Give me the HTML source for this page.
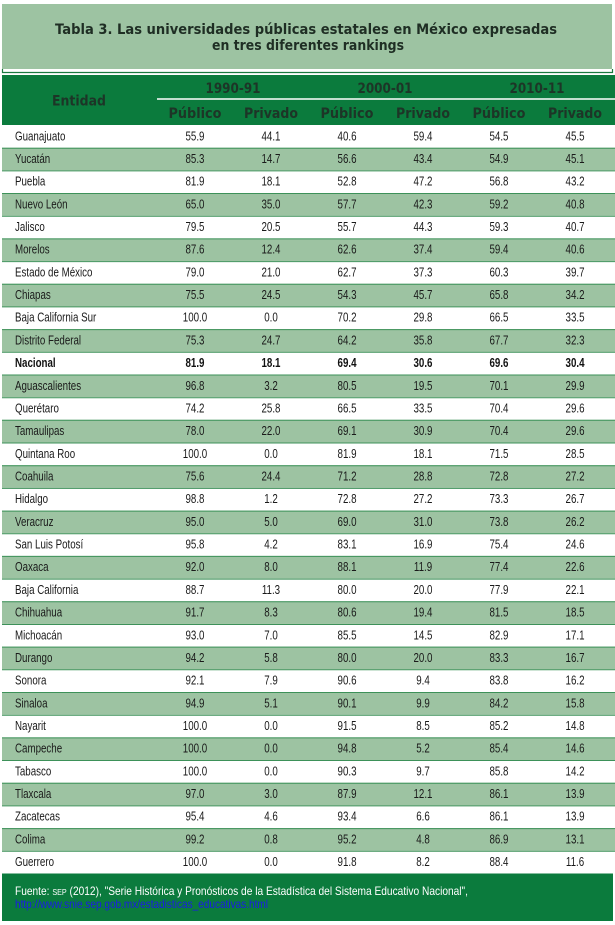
<!DOCTYPE html>
<html><head><meta charset="utf-8"><style>
html,body{margin:0;padding:0;background:#fff;width:615px;height:925px;overflow:hidden}
svg{display:block}
.n{text-anchor:middle}
</style></head><body>
<svg width="615" height="925" viewBox="0 0 615 925" xmlns="http://www.w3.org/2000/svg">
<rect x="0" y="0" width="615" height="925" fill="#fff"/>
<!-- title -->
<rect x="2" y="4" width="610" height="65" fill="#9dc3a2"/>
<path d="M2.5 69 V72.5 H612.5 V69" fill="none" stroke="#1b7a40" stroke-width="1.2"/>
<g font-family="DejaVu Sans, sans-serif" font-weight="bold" font-size="14" fill="#1f2e24">
<text x="55" y="34" textLength="502" lengthAdjust="spacingAndGlyphs">Tabla 3. Las universidades públicas estatales en México expresadas</text>
<text x="212" y="50" textLength="192" lengthAdjust="spacingAndGlyphs">en tres diferentes rankings</text>
</g>
<!-- header -->
<rect x="2" y="75" width="613" height="50" fill="#0b7b3d"/>
<line x1="157" y1="99" x2="615" y2="99" stroke="#fff" stroke-width="1.5"/>
<g font-family="DejaVu Sans, sans-serif" font-weight="bold" font-size="14" fill="#1d3527">
<text x="52" y="105.5" textLength="54" lengthAdjust="spacingAndGlyphs">Entidad</text>
<text x="205.5" y="93" textLength="55" lengthAdjust="spacingAndGlyphs">1990-91</text>
<text x="357.5" y="93" textLength="55" lengthAdjust="spacingAndGlyphs">2000-01</text>
<text x="509.5" y="93" textLength="55" lengthAdjust="spacingAndGlyphs">2010-11</text>
<text x="168.5" y="118" textLength="53" lengthAdjust="spacingAndGlyphs">Público</text>
<text x="244" y="118" textLength="54" lengthAdjust="spacingAndGlyphs">Privado</text>
<text x="320.5" y="118" textLength="53" lengthAdjust="spacingAndGlyphs">Público</text>
<text x="396" y="118" textLength="54" lengthAdjust="spacingAndGlyphs">Privado</text>
<text x="472.5" y="118" textLength="53" lengthAdjust="spacingAndGlyphs">Público</text>
<text x="548" y="118" textLength="54" lengthAdjust="spacingAndGlyphs">Privado</text>
</g>
<!-- green rows -->
<g fill="#9dc3a2">
<rect x="2" y="147.68" width="613" height="22.68"/>
<rect x="2" y="193.04" width="613" height="22.68"/>
<rect x="2" y="238.40" width="613" height="22.68"/>
<rect x="2" y="283.76" width="613" height="22.68"/>
<rect x="2" y="329.12" width="613" height="22.68"/>
<rect x="2" y="374.48" width="613" height="22.68"/>
<rect x="2" y="419.84" width="613" height="22.68"/>
<rect x="2" y="465.20" width="613" height="22.68"/>
<rect x="2" y="510.56" width="613" height="22.68"/>
<rect x="2" y="555.92" width="613" height="22.68"/>
<rect x="2" y="601.28" width="613" height="22.68"/>
<rect x="2" y="646.64" width="613" height="22.68"/>
<rect x="2" y="692.00" width="613" height="22.68"/>
<rect x="2" y="737.36" width="613" height="22.68"/>
<rect x="2" y="782.72" width="613" height="22.68"/>
<rect x="2" y="828.08" width="613" height="22.68"/>
</g>
<!-- row lines -->
<g stroke="#3d9159" stroke-width="1">
<line x1="2" x2="615" y1="148.2" y2="148.2"/>
<line x1="2" x2="615" y1="170.9" y2="170.9"/>
<line x1="2" x2="615" y1="193.5" y2="193.5"/>
<line x1="2" x2="615" y1="216.2" y2="216.2"/>
<line x1="2" x2="615" y1="238.9" y2="238.9"/>
<line x1="2" x2="615" y1="261.6" y2="261.6"/>
<line x1="2" x2="615" y1="284.3" y2="284.3"/>
<line x1="2" x2="615" y1="306.9" y2="306.9"/>
<line x1="2" x2="615" y1="329.6" y2="329.6"/>
<line x1="2" x2="615" y1="352.3" y2="352.3"/>
<line x1="2" x2="615" y1="375.0" y2="375.0"/>
<line x1="2" x2="615" y1="397.7" y2="397.7"/>
<line x1="2" x2="615" y1="420.3" y2="420.3"/>
<line x1="2" x2="615" y1="443.0" y2="443.0"/>
<line x1="2" x2="615" y1="465.7" y2="465.7"/>
<line x1="2" x2="615" y1="488.4" y2="488.4"/>
<line x1="2" x2="615" y1="511.1" y2="511.1"/>
<line x1="2" x2="615" y1="533.7" y2="533.7"/>
<line x1="2" x2="615" y1="556.4" y2="556.4"/>
<line x1="2" x2="615" y1="579.1" y2="579.1"/>
<line x1="2" x2="615" y1="601.8" y2="601.8"/>
<line x1="2" x2="615" y1="624.5" y2="624.5"/>
<line x1="2" x2="615" y1="647.1" y2="647.1"/>
<line x1="2" x2="615" y1="669.8" y2="669.8"/>
<line x1="2" x2="615" y1="692.5" y2="692.5"/>
<line x1="2" x2="615" y1="715.2" y2="715.2"/>
<line x1="2" x2="615" y1="737.9" y2="737.9"/>
<line x1="2" x2="615" y1="760.5" y2="760.5"/>
<line x1="2" x2="615" y1="783.2" y2="783.2"/>
<line x1="2" x2="615" y1="805.9" y2="805.9"/>
<line x1="2" x2="615" y1="828.6" y2="828.6"/>
<line x1="2" x2="615" y1="851.3" y2="851.3"/>
</g>
<!-- data -->
<g transform="scale(0.75,1)" font-family="Liberation Sans, Arial, sans-serif" font-size="13" fill="#1a1a1a">
<text x="20" y="140.3">Guanajuato</text><text class="n" x="260" y="140.3">55.9</text><text class="n" x="361.3" y="140.3">44.1</text><text class="n" x="462.7" y="140.3">40.6</text><text class="n" x="564" y="140.3">59.4</text><text class="n" x="665.3" y="140.3">54.5</text><text class="n" x="766.7" y="140.3">45.5</text>
<text x="20" y="163.0">Yucatán</text><text class="n" x="260" y="163.0">85.3</text><text class="n" x="361.3" y="163.0">14.7</text><text class="n" x="462.7" y="163.0">56.6</text><text class="n" x="564" y="163.0">43.4</text><text class="n" x="665.3" y="163.0">54.9</text><text class="n" x="766.7" y="163.0">45.1</text>
<text x="20" y="185.7">Puebla</text><text class="n" x="260" y="185.7">81.9</text><text class="n" x="361.3" y="185.7">18.1</text><text class="n" x="462.7" y="185.7">52.8</text><text class="n" x="564" y="185.7">47.2</text><text class="n" x="665.3" y="185.7">56.8</text><text class="n" x="766.7" y="185.7">43.2</text>
<text x="20" y="208.3">Nuevo León</text><text class="n" x="260" y="208.3">65.0</text><text class="n" x="361.3" y="208.3">35.0</text><text class="n" x="462.7" y="208.3">57.7</text><text class="n" x="564" y="208.3">42.3</text><text class="n" x="665.3" y="208.3">59.2</text><text class="n" x="766.7" y="208.3">40.8</text>
<text x="20" y="231.0">Jalisco</text><text class="n" x="260" y="231.0">79.5</text><text class="n" x="361.3" y="231.0">20.5</text><text class="n" x="462.7" y="231.0">55.7</text><text class="n" x="564" y="231.0">44.3</text><text class="n" x="665.3" y="231.0">59.3</text><text class="n" x="766.7" y="231.0">40.7</text>
<text x="20" y="253.7">Morelos</text><text class="n" x="260" y="253.7">87.6</text><text class="n" x="361.3" y="253.7">12.4</text><text class="n" x="462.7" y="253.7">62.6</text><text class="n" x="564" y="253.7">37.4</text><text class="n" x="665.3" y="253.7">59.4</text><text class="n" x="766.7" y="253.7">40.6</text>
<text x="20" y="276.4">Estado de México</text><text class="n" x="260" y="276.4">79.0</text><text class="n" x="361.3" y="276.4">21.0</text><text class="n" x="462.7" y="276.4">62.7</text><text class="n" x="564" y="276.4">37.3</text><text class="n" x="665.3" y="276.4">60.3</text><text class="n" x="766.7" y="276.4">39.7</text>
<text x="20" y="299.1">Chiapas</text><text class="n" x="260" y="299.1">75.5</text><text class="n" x="361.3" y="299.1">24.5</text><text class="n" x="462.7" y="299.1">54.3</text><text class="n" x="564" y="299.1">45.7</text><text class="n" x="665.3" y="299.1">65.8</text><text class="n" x="766.7" y="299.1">34.2</text>
<text x="20" y="321.7">Baja California Sur</text><text class="n" x="260" y="321.7">100.0</text><text class="n" x="361.3" y="321.7">0.0</text><text class="n" x="462.7" y="321.7">70.2</text><text class="n" x="564" y="321.7">29.8</text><text class="n" x="665.3" y="321.7">66.5</text><text class="n" x="766.7" y="321.7">33.5</text>
<text x="20" y="344.4">Distrito Federal</text><text class="n" x="260" y="344.4">75.3</text><text class="n" x="361.3" y="344.4">24.7</text><text class="n" x="462.7" y="344.4">64.2</text><text class="n" x="564" y="344.4">35.8</text><text class="n" x="665.3" y="344.4">67.7</text><text class="n" x="766.7" y="344.4">32.3</text>
<g font-weight="bold" fill="#111"><text x="20" y="367.1">Nacional</text><text class="n" x="260" y="367.1">81.9</text><text class="n" x="361.3" y="367.1">18.1</text><text class="n" x="462.7" y="367.1">69.4</text><text class="n" x="564" y="367.1">30.6</text><text class="n" x="665.3" y="367.1">69.6</text><text class="n" x="766.7" y="367.1">30.4</text></g>
<text x="20" y="389.8">Aguascalientes</text><text class="n" x="260" y="389.8">96.8</text><text class="n" x="361.3" y="389.8">3.2</text><text class="n" x="462.7" y="389.8">80.5</text><text class="n" x="564" y="389.8">19.5</text><text class="n" x="665.3" y="389.8">70.1</text><text class="n" x="766.7" y="389.8">29.9</text>
<text x="20" y="412.5">Querétaro</text><text class="n" x="260" y="412.5">74.2</text><text class="n" x="361.3" y="412.5">25.8</text><text class="n" x="462.7" y="412.5">66.5</text><text class="n" x="564" y="412.5">33.5</text><text class="n" x="665.3" y="412.5">70.4</text><text class="n" x="766.7" y="412.5">29.6</text>
<text x="20" y="435.1">Tamaulipas</text><text class="n" x="260" y="435.1">78.0</text><text class="n" x="361.3" y="435.1">22.0</text><text class="n" x="462.7" y="435.1">69.1</text><text class="n" x="564" y="435.1">30.9</text><text class="n" x="665.3" y="435.1">70.4</text><text class="n" x="766.7" y="435.1">29.6</text>
<text x="20" y="457.8">Quintana Roo</text><text class="n" x="260" y="457.8">100.0</text><text class="n" x="361.3" y="457.8">0.0</text><text class="n" x="462.7" y="457.8">81.9</text><text class="n" x="564" y="457.8">18.1</text><text class="n" x="665.3" y="457.8">71.5</text><text class="n" x="766.7" y="457.8">28.5</text>
<text x="20" y="480.5">Coahuila</text><text class="n" x="260" y="480.5">75.6</text><text class="n" x="361.3" y="480.5">24.4</text><text class="n" x="462.7" y="480.5">71.2</text><text class="n" x="564" y="480.5">28.8</text><text class="n" x="665.3" y="480.5">72.8</text><text class="n" x="766.7" y="480.5">27.2</text>
<text x="20" y="503.2">Hidalgo</text><text class="n" x="260" y="503.2">98.8</text><text class="n" x="361.3" y="503.2">1.2</text><text class="n" x="462.7" y="503.2">72.8</text><text class="n" x="564" y="503.2">27.2</text><text class="n" x="665.3" y="503.2">73.3</text><text class="n" x="766.7" y="503.2">26.7</text>
<text x="20" y="525.9">Veracruz</text><text class="n" x="260" y="525.9">95.0</text><text class="n" x="361.3" y="525.9">5.0</text><text class="n" x="462.7" y="525.9">69.0</text><text class="n" x="564" y="525.9">31.0</text><text class="n" x="665.3" y="525.9">73.8</text><text class="n" x="766.7" y="525.9">26.2</text>
<text x="20" y="548.5">San Luis Potosí</text><text class="n" x="260" y="548.5">95.8</text><text class="n" x="361.3" y="548.5">4.2</text><text class="n" x="462.7" y="548.5">83.1</text><text class="n" x="564" y="548.5">16.9</text><text class="n" x="665.3" y="548.5">75.4</text><text class="n" x="766.7" y="548.5">24.6</text>
<text x="20" y="571.2">Oaxaca</text><text class="n" x="260" y="571.2">92.0</text><text class="n" x="361.3" y="571.2">8.0</text><text class="n" x="462.7" y="571.2">88.1</text><text class="n" x="564" y="571.2">11.9</text><text class="n" x="665.3" y="571.2">77.4</text><text class="n" x="766.7" y="571.2">22.6</text>
<text x="20" y="593.9">Baja California</text><text class="n" x="260" y="593.9">88.7</text><text class="n" x="361.3" y="593.9">11.3</text><text class="n" x="462.7" y="593.9">80.0</text><text class="n" x="564" y="593.9">20.0</text><text class="n" x="665.3" y="593.9">77.9</text><text class="n" x="766.7" y="593.9">22.1</text>
<text x="20" y="616.6">Chihuahua</text><text class="n" x="260" y="616.6">91.7</text><text class="n" x="361.3" y="616.6">8.3</text><text class="n" x="462.7" y="616.6">80.6</text><text class="n" x="564" y="616.6">19.4</text><text class="n" x="665.3" y="616.6">81.5</text><text class="n" x="766.7" y="616.6">18.5</text>
<text x="20" y="639.3">Michoacán</text><text class="n" x="260" y="639.3">93.0</text><text class="n" x="361.3" y="639.3">7.0</text><text class="n" x="462.7" y="639.3">85.5</text><text class="n" x="564" y="639.3">14.5</text><text class="n" x="665.3" y="639.3">82.9</text><text class="n" x="766.7" y="639.3">17.1</text>
<text x="20" y="661.9">Durango</text><text class="n" x="260" y="661.9">94.2</text><text class="n" x="361.3" y="661.9">5.8</text><text class="n" x="462.7" y="661.9">80.0</text><text class="n" x="564" y="661.9">20.0</text><text class="n" x="665.3" y="661.9">83.3</text><text class="n" x="766.7" y="661.9">16.7</text>
<text x="20" y="684.6">Sonora</text><text class="n" x="260" y="684.6">92.1</text><text class="n" x="361.3" y="684.6">7.9</text><text class="n" x="462.7" y="684.6">90.6</text><text class="n" x="564" y="684.6">9.4</text><text class="n" x="665.3" y="684.6">83.8</text><text class="n" x="766.7" y="684.6">16.2</text>
<text x="20" y="707.3">Sinaloa</text><text class="n" x="260" y="707.3">94.9</text><text class="n" x="361.3" y="707.3">5.1</text><text class="n" x="462.7" y="707.3">90.1</text><text class="n" x="564" y="707.3">9.9</text><text class="n" x="665.3" y="707.3">84.2</text><text class="n" x="766.7" y="707.3">15.8</text>
<text x="20" y="730.0">Nayarit</text><text class="n" x="260" y="730.0">100.0</text><text class="n" x="361.3" y="730.0">0.0</text><text class="n" x="462.7" y="730.0">91.5</text><text class="n" x="564" y="730.0">8.5</text><text class="n" x="665.3" y="730.0">85.2</text><text class="n" x="766.7" y="730.0">14.8</text>
<text x="20" y="752.7">Campeche</text><text class="n" x="260" y="752.7">100.0</text><text class="n" x="361.3" y="752.7">0.0</text><text class="n" x="462.7" y="752.7">94.8</text><text class="n" x="564" y="752.7">5.2</text><text class="n" x="665.3" y="752.7">85.4</text><text class="n" x="766.7" y="752.7">14.6</text>
<text x="20" y="775.3">Tabasco</text><text class="n" x="260" y="775.3">100.0</text><text class="n" x="361.3" y="775.3">0.0</text><text class="n" x="462.7" y="775.3">90.3</text><text class="n" x="564" y="775.3">9.7</text><text class="n" x="665.3" y="775.3">85.8</text><text class="n" x="766.7" y="775.3">14.2</text>
<text x="20" y="798.0">Tlaxcala</text><text class="n" x="260" y="798.0">97.0</text><text class="n" x="361.3" y="798.0">3.0</text><text class="n" x="462.7" y="798.0">87.9</text><text class="n" x="564" y="798.0">12.1</text><text class="n" x="665.3" y="798.0">86.1</text><text class="n" x="766.7" y="798.0">13.9</text>
<text x="20" y="820.7">Zacatecas</text><text class="n" x="260" y="820.7">95.4</text><text class="n" x="361.3" y="820.7">4.6</text><text class="n" x="462.7" y="820.7">93.4</text><text class="n" x="564" y="820.7">6.6</text><text class="n" x="665.3" y="820.7">86.1</text><text class="n" x="766.7" y="820.7">13.9</text>
<text x="20" y="843.4">Colima</text><text class="n" x="260" y="843.4">99.2</text><text class="n" x="361.3" y="843.4">0.8</text><text class="n" x="462.7" y="843.4">95.2</text><text class="n" x="564" y="843.4">4.8</text><text class="n" x="665.3" y="843.4">86.9</text><text class="n" x="766.7" y="843.4">13.1</text>
<text x="20" y="866.1">Guerrero</text><text class="n" x="260" y="866.1">100.0</text><text class="n" x="361.3" y="866.1">0.0</text><text class="n" x="462.7" y="866.1">91.8</text><text class="n" x="564" y="866.1">8.2</text><text class="n" x="665.3" y="866.1">88.4</text><text class="n" x="766.7" y="866.1">11.6</text>
</g>
<!-- footer -->
<rect x="2" y="873.5" width="611" height="47.5" fill="#0b7b3d"/>
<g font-family="Liberation Sans, Arial, sans-serif" font-size="12">
<text x="15" y="895" fill="#fff" textLength="453" lengthAdjust="spacingAndGlyphs">Fuente: <tspan font-size="8.5">SEP</tspan> (2012), "Serie Histórica y Pronósticos de la Estadística del Sistema Educativo Nacional",</text>
<text x="15" y="908" fill="#1b1be6" textLength="253" lengthAdjust="spacingAndGlyphs">http://www.snie.sep.gob.mx/estadisticas_educativas.html</text>
</g>
</svg>
</body></html>
